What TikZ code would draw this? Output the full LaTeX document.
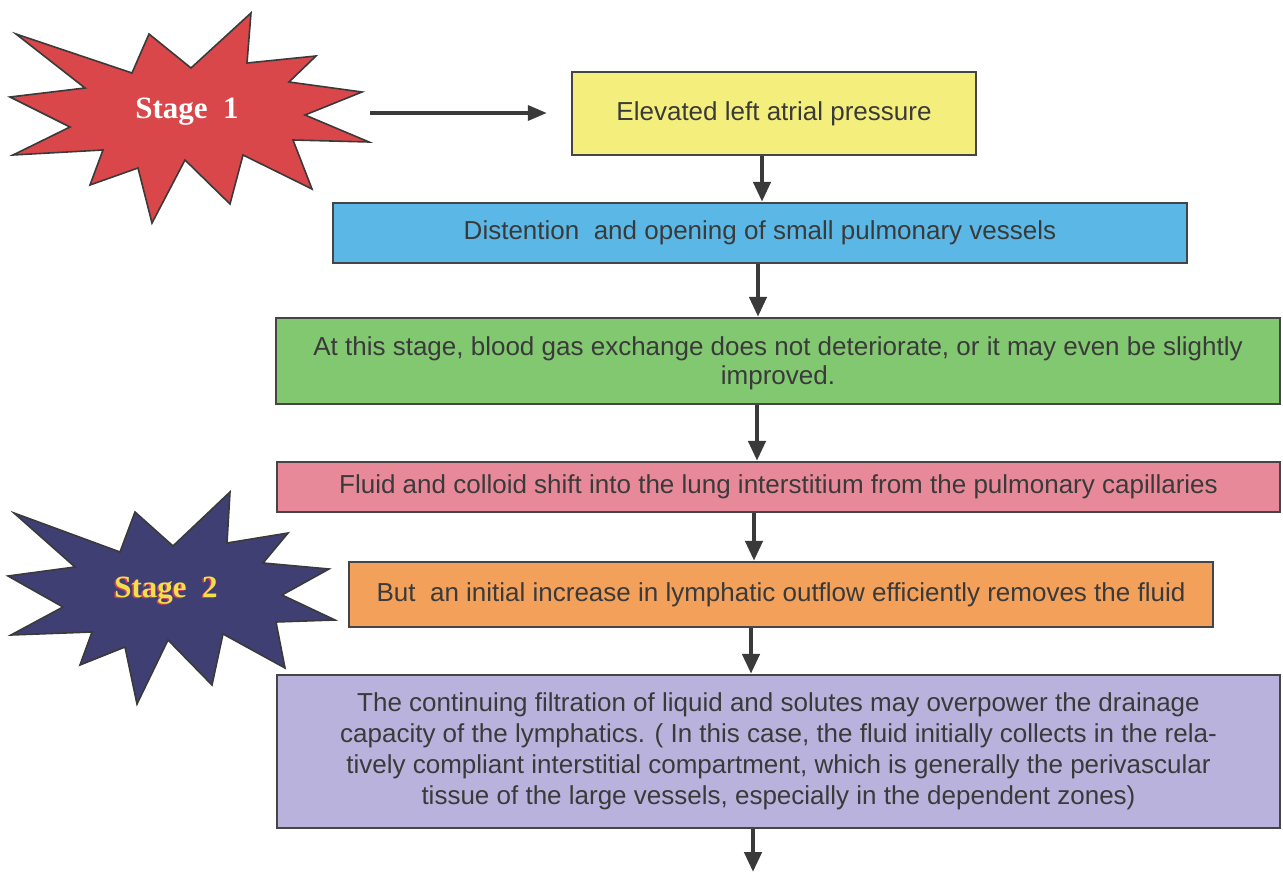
\documentclass[tikz,border=0pt]{standalone}
\usepackage{fontspec}
\setmainfont{Liberation Sans}
\newfontfamily\starfont{Liberation Serif}
\usetikzlibrary{arrows.meta,calc}

\definecolor{inkgray}{HTML}{3A3A3A}
\definecolor{edgegray}{HTML}{454545}
\definecolor{boxyellow}{HTML}{F4EF7C}
\definecolor{boxblue}{HTML}{5BB8E6}
\definecolor{boxgreen}{HTML}{82C870}
\definecolor{boxpink}{HTML}{E8899A}
\definecolor{boxorange}{HTML}{F3A05A}
\definecolor{boxpurple}{HTML}{B9B2DC}
\definecolor{starred}{HTML}{D9474A}
\definecolor{starnavy}{HTML}{3F3F74}
\definecolor{staryellow}{HTML}{F2E04A}
\definecolor{shadowred}{HTML}{D0405E}

\begin{document}
\begin{tikzpicture}[x=1pt,y=-1pt,
  flowbox/.style={draw=edgegray, line width=2.4pt, inner sep=0pt,
    align=center, text=inkgray,
    font=\fontsize{26}{29}\selectfont},
  flowarrow/.style={draw=inkgray, line width=4.5pt,
    -{Triangle[width=17pt,length=20pt]}},
  starshape/.style={draw=inkgray, line width=1.6pt, line join=miter},
  stagelabel/.style={font=\starfont\bfseries\fontsize{31}{34}\selectfont}
]
\useasboundingbox (0,0) rectangle (1283,872);
\fill[white] (0,0) rectangle (1283,872);

% ---- flow boxes ----
\node[flowbox, fill=boxyellow, minimum width=404pt, minimum height=83pt]
  (b1) at (774,113.5) {Elevated left atrial pressure};
\node[flowbox, fill=boxblue, minimum width=854pt, minimum height=60pt]
  (b2) at (760,233) {Distention\ \ and opening of small pulmonary vessels};
\node[flowbox, fill=boxgreen, minimum width=1004pt, minimum height=86pt]
  (b3) at (778,361) {\rule{0pt}{24pt}At this stage, blood gas exchange does not deteriorate, or it may even be slightly\\improved.};
\node[flowbox, fill=boxpink, minimum width=1003pt, minimum height=50pt]
  (b4) at (778.5,487) {Fluid and colloid shift into the lung interstitium from the pulmonary capillaries};
\node[flowbox, fill=boxorange, minimum width=864pt, minimum height=65pt]
  (b5) at (781,594.5) {But\ \ an initial increase in lymphatic outflow efficiently removes the fluid};
\node[flowbox, fill=boxpurple, minimum width=1003pt, minimum height=153pt,
  font=\fontsize{26}{31}\selectfont]
  (b6) at (778.5,751.5) {The continuing filtration of liquid and solutes may overpower the drainage\\
  capacity of the lymphatics. ( In this case, the fluid initially collects in the rela-\\
  tively compliant interstitial compartment, which is generally the perivascular\\
  tissue of the large vessels, especially in the dependent zones)};

% ---- vertical connectors ----
\coordinate (c12) at (762,0);
\coordinate (c23) at (758,0);
\coordinate (c34) at (757,0);
\coordinate (c45) at (754,0);
\coordinate (c56) at (751,0);
\coordinate (c6x) at (753,0);
\coordinate (flowend) at (753,872);
\draw[flowarrow] (b1.south -| c12) -- (b2.north -| c12);
\draw[flowarrow] (b2.south -| c23) -- (b3.north -| c23);
\draw[flowarrow] (b3.south -| c34) -- (b4.north -| c34);
\draw[flowarrow] (b4.south -| c45) -- (b5.north -| c45);
\draw[flowarrow] (b5.south -| c56) -- (b6.north -| c56);
\draw[flowarrow] (b6.south -| c6x) -- (flowend);

% ---- stage 1 burst ----
\draw[starshape, fill=starred]
  (16,34) -- (132,73) -- (149,34) -- (191,68) -- (251,13) -- (247,63)
  -- (316,56) -- (289,82) -- (362,92) -- (305,115) -- (369,142) -- (293,140)
  -- (312,189) -- (243,155) -- (230,204) -- (185,160) -- (152,223) -- (138,168)
  -- (90,185) -- (103,150) -- (13,155) -- (70,127) -- (10,97) -- (85,88) -- cycle;
\node[stagelabel, text=white] (s1) at (187,112) {Stage\ \ 1};

% ---- stage 2 burst ----
\draw[starshape, fill=starnavy]
  (14,513) -- (120,552) -- (135,512) -- (173,546) -- (230,492) -- (227,543)
  -- (288,533) -- (263,563) -- (329,569) -- (282,595) -- (335,620) -- (276,622)
  -- (285,668) -- (223,634) -- (212,685) -- (168,640) -- (137,704) -- (125,647)
  -- (80,665) -- (92,632) -- (11,635) -- (63,607) -- (8,576) -- (75,567) -- cycle;
\node[stagelabel, text=shadowred] (s2shadow) at (164.5,592) {Stage\ \ 2};
\node[stagelabel, text=staryellow] (s2) at (166,590.5) {Stage\ \ 2};

% ---- stage 1 pointer ----
\coordinate (s1tail) at (370,113);
\draw[draw=inkgray, line width=3.5pt, shorten >=24pt,
  -{Triangle[width=15pt,length=19pt]}]
  (s1tail) -- (b1.west |- s1tail);
\end{tikzpicture}
\end{document}
